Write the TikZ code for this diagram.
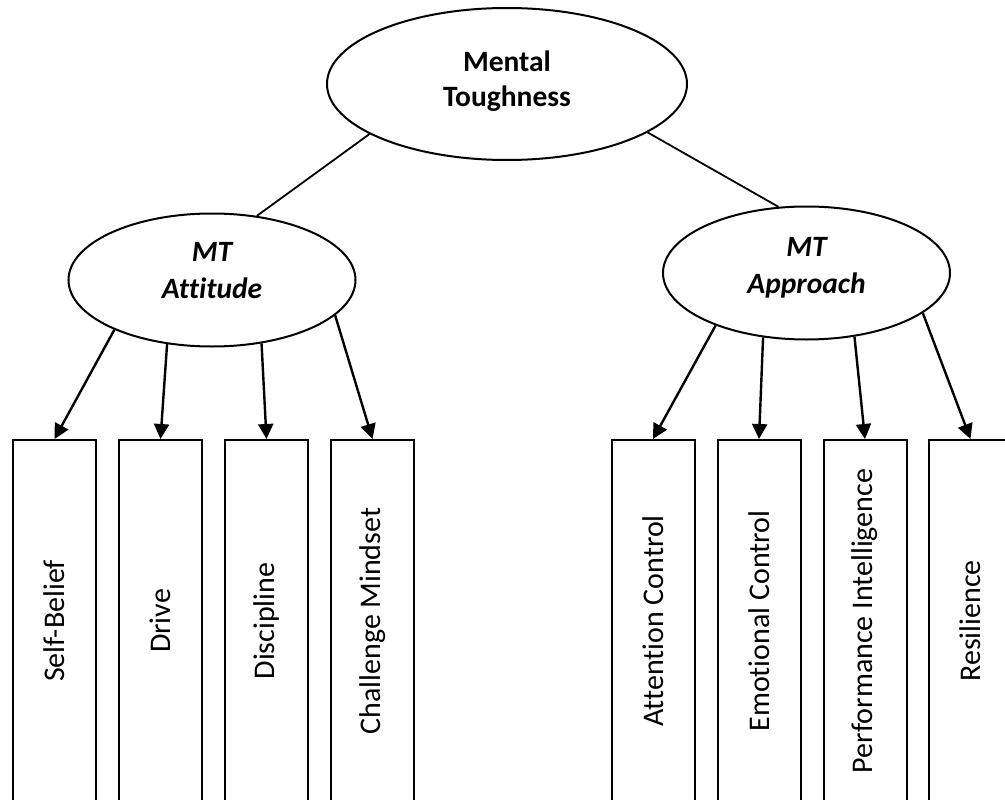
\documentclass[tikz,border=0pt]{standalone}
\usepackage{fontspec}
\setmainfont{Carlito}[Ligatures=CommonOff]
\usetikzlibrary{shapes.geometric,arrows.meta}
\begin{document}
\begin{tikzpicture}[x=1pt,y=-1pt,
  oval/.style={ellipse,draw,line width=2pt,inner sep=0pt,align=center,
    font=\fontsize{29.5}{35}\selectfont\bfseries},
  subtopic/.style={oval,minimum width=287pt,minimum height=133pt,
    font=\fontsize{29.5}{37}\selectfont\bfseries\itshape},
  leaf/.style={draw,line width=2pt,minimum width=83pt,minimum height=362pt,inner sep=0pt},
  leaftext/.style={rotate=90,inner sep=0pt,font=\fontsize{30}{36}\selectfont},
  link/.style={line width=1.8pt},
  arr/.style={line width=2.4pt,-{Triangle[length=15pt,width=15pt]}}]
\useasboundingbox (0,0) rectangle (1005,800);
\clip (0,0) rectangle (1005,800);

% top concept and its two dimensions (the struts lift the text a little)
\node[oval,minimum width=360pt,minimum height=152pt] (mt) at (507,84)
  {Mental\\Toughness\rule[-11pt]{0pt}{0pt}};
\node[subtopic] (att) at (212,280) {MT\\Attitude\rule[-20pt]{0pt}{0pt}};
\node[subtopic] (app) at (806.5,273) {MT\\Approach\rule[-16pt]{0pt}{0pt}};

\draw[link] (mt.200) -- (att.55.5);
\draw[link] (mt.341.8) -- (app.113.8);

% attitude components
\node[leaf] (sb) at (54.5,621) {};
\node[leaf] (dr) at (160.5,621) {};
\node[leaf] (di) at (266.5,621) {};
\node[leaf] (cm) at (372.5,621) {};
\node[leaftext] (sbt) at (sb) {Self-Belief};
\node[leaftext] (drt) at (dr) {Drive};
\node[leaftext] (dit) at (di) {Discipline};
\node[leaftext] (cmt) at (cm) {Challenge Mindset};

% approach components
\node[leaf] (ac) at (653,621) {};
\node[leaf] (ec) at (759,621) {};
\node[leaf] (pi) at (865,621) {};
\node[leaf] (re) at (970.5,621) {};
\node[leaftext] (act) at (ac) {Attention Control};
\node[leaftext] (ect) at (ec) {Emotional Control};
\node[leaftext] (pit) at (pi) {Performance Intelligence};
\node[leaftext] (ret) at (re) {Resilience};

\draw[arr] (att.207.8) -- (sb.north);
\draw[arr] (att.235.7) -- (dr.north);
\draw[arr] (att.308.4) -- (di.north);
\draw[arr] (att.344) -- (cm.north);

\draw[arr] (app.210.5) -- (ac.north);
\draw[arr] (app.236.2) -- (ec.north);
\draw[arr] (app.307.7) -- (pi.north);
\draw[arr] (app.341.9) -- (re.north);
\end{tikzpicture}
\end{document}
